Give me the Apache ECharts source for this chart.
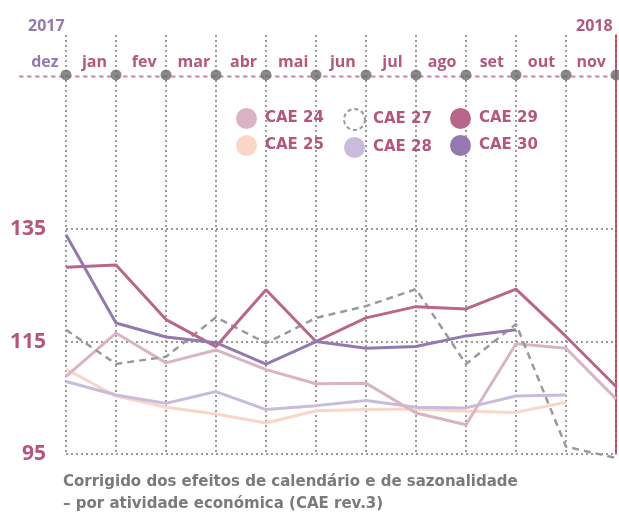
<!DOCTYPE html>
<html>
<head>
<meta charset="utf-8">
<script src="https://cdn.jsdelivr.net/npm/echarts@6/dist/echarts.min.js"></script>
<style>
  html, body { margin: 0; padding: 0; background: #fff; }
  #main { width: 619px; height: 513px; }
</style>
</head>
<body>
<div id="main"></div>
<script>
// meses dez 2017 -> nov 2018
var months = ["dez", "jan", "fev", "mar", "abr", "mai", "jun", "jul", "ago", "set", "out", "nov"];
var yTicks = [95, 115, 135];

// índices por atividade
var cae24 = [108.8, 116.5, 111.2, 113.5, 110.0, 107.5, 107.6, 102.3, 100.2, 114.6, 113.8, 104.8];
var cae25 = [110.1, 105.3, 103.3, 102.1, 100.5, 102.7, 102.9, 103.0, 102.6, 102.4, 104.2, null];
var cae27 = [117.1, 111.0, 112.3, 119.3, 114.7, 119.2, 121.3, 124.3, 111.0, 118.1, 96.3, 94.3];
var cae28 = [107.9, 105.5, 104.0, 106.1, 102.9, 103.6, 104.5, 103.3, 103.2, 105.3, 105.5, null];
var cae29 = [128.2, 128.6, 118.9, 114.1, 124.2, 115.0, 119.2, 121.2, 120.8, 124.3, 115.9, 107.0];
var cae30 = [134.0, 118.3, 115.8, 114.8, 111.0, 115.0, 113.8, 114.1, 116.0, 117.1, null, null];

var mauve = "#b4577e";
var purple = "#9479b0";
var font = "Open Sans";
var wideFont = "DejaVu Sans";

var chart = echarts.init(document.getElementById("main"));

function lineSerie(name, data, color, dashed) {
  return {
    name: name,
    type: "line",
    data: data,
    symbol: "none",
    clip: false,
    itemStyle: { color: color, borderWidth: 0 },
    lineStyle: { color: color, width: dashed ? 2.5 : 3, type: dashed ? [7, 5] : "solid" },
    z: 3
  };
}

var legendBase = {
  orient: "vertical",
  top: 108,
  padding: 0,
  icon: "circle",
  itemWidth: 21,
  itemHeight: 21,
  itemGap: 6,
  itemStyle: { borderWidth: 0 },
  textStyle: { color: mauve, fontSize: 15, fontWeight: "bold", fontFamily: wideFont, padding: [0, 0, 0, 3] }
};

chart.setOption({
  animation: false,
  grid: [
    { left: 66, right: 3, top: 35, bottom: 59 },
    { left: 20, right: 3, top: 75, height: 1 }
  ],
  legend: [
    Object.assign({}, legendBase, { left: 236, data: ["CAE 24", "CAE 25"] }),
    Object.assign({}, legendBase, {
      left: 343,
      data: [
        { name: "CAE 27", itemStyle: { color: "#ffffff", borderColor: "#9a9a9a", borderWidth: 2, borderType: [4, 3] } },
        "CAE 28"
      ]
    }),
    Object.assign({}, legendBase, { left: 450, data: ["CAE 29", "CAE 30"] })
  ],
  xAxis: [
    {
      gridIndex: 0,
      type: "category",
      boundaryGap: false,
      data: months,
      axisLine: { show: false },
      axisTick: { show: false, interval: 0 },
      axisLabel: { show: false, interval: 0 },
      splitLine: { show: true, interval: 0, lineStyle: { color: "#9a9a9a", width: 2, type: [2, 3] } }
    },
    {
      gridIndex: 1,
      type: "category",
      position: "top",
      boundaryGap: true,
      data: months,
      axisLine: { show: true, lineStyle: { color: "#d59bb4", width: 2.5, type: [2.5, 5.5] } },
      axisTick: { show: false },
      axisLabel: {
        interval: 0,
        margin: 5,
        fontSize: 16,
        fontWeight: "bold",
        fontFamily: font,
        color: function (v, i) { return i === 0 ? purple : mauve; }
      },
      splitLine: { show: false }
    }
  ],
  yAxis: [
    {
      gridIndex: 0,
      type: "value",
      min: 95,
      max: 169.5,
      interval: 20,
      axisLine: { show: false },
      axisTick: { show: false },
      axisLabel: {
        margin: 20,
        fontSize: 21,
        fontWeight: "bold",
        fontFamily: font,
        color: mauve,
        formatter: function (v) { return yTicks.indexOf(v) >= 0 ? String(v) : ""; }
      },
      splitLine: {
        show: true,
        lineStyle: { color: ["#9a9a9a", "#9a9a9a", "#9a9a9a", "transparent", "transparent"], width: 2, type: [2, 3] }
      }
    },
    {
      gridIndex: 0,
      type: "value",
      position: "right",
      min: 95,
      max: 169.5,
      axisLine: { show: true, lineStyle: { color: "#b03040", width: 1.5 } },
      axisTick: { show: false },
      axisLabel: { show: false },
      splitLine: { show: false }
    },
    { gridIndex: 1, type: "value", show: false }
  ],
  series: [
    lineSerie("CAE 25", cae25, "#fad6c8", false),
    lineSerie("CAE 28", cae28, "#c9bbdb", false),
    lineSerie("CAE 24", cae24, "#dab4c4", false),
    lineSerie("CAE 27", cae27, "#9a9a9a", true),
    lineSerie("CAE 29", cae29, "#b8678a", false),
    lineSerie("CAE 30", cae30, "#9479b0", false),
    {
      // pontos do cabeçalho dos meses
      type: "scatter",
      data: months.map(function (m) { return [m, 162.4]; }),
      symbolSize: 11,
      itemStyle: { color: "#6b6b6b" },
      silent: true,
      z: 5
    }
  ],
  graphic: [
    { type: "text", left: 28, top: 18, style: { text: "2017", fill: purple, font: "bold 16px '" + font + "'" } },
    { type: "text", left: 576, top: 18, style: { text: "2018", fill: mauve, font: "bold 16px '" + font + "'" } },
    {
      type: "text", left: 63, top: 471,
      style: {
        text: "Corrigido dos efeitos de calendário e de sazonalidade\n– por atividade económica (CAE rev.3)",
        fill: "#7a7a7a", font: "bold 15px '" + wideFont + "'", lineHeight: 22
      }
    }
  ]
});
</script>
</body>
</html>
